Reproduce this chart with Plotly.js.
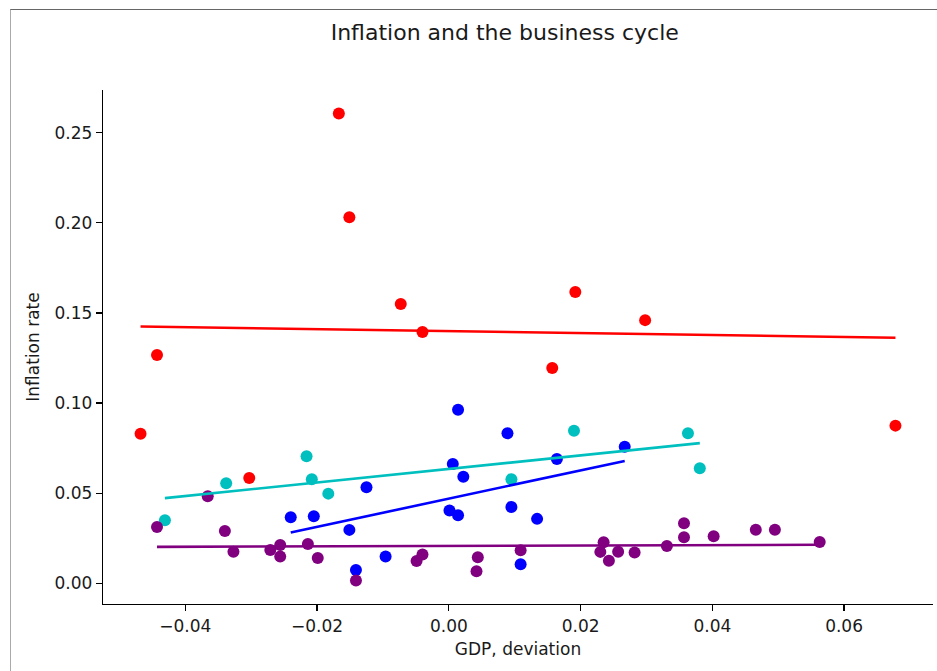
<!DOCTYPE html>
<html>
<head>
<meta charset="utf-8">
<script src="https://cdn.plot.ly/plotly-3.0.1.min.js"></script>
<style>
  html, body { margin: 0; padding: 0; background: #ffffff; }
  #wrap { position: relative; width: 937px; height: 671px; overflow: hidden; }
  #frame { position: absolute; left: 10px; top: 9px; right: -5px; bottom: -5px;
           border-top: 1.5px solid #666; border-left: 1px solid #aaa; pointer-events: none; }
  #chart { position: absolute; left: 0; top: 0; width: 937px; height: 671px; }
</style>
</head>
<body>
<div id="wrap">
  <div id="frame"></div>
  <div id="chart"></div>
</div>
<script>
// ---- data ----
const redX = [-0.0468, -0.0443, -0.0303, -0.0167, -0.0151, -0.0073, -0.0040, 0.0157, 0.0192, 0.0298, 0.0678];
const redY = [0.0830, 0.1267, 0.0585, 0.2606, 0.2030, 0.1550, 0.1394, 0.1195, 0.1616, 0.1460, 0.0875];

const blueX = [-0.0240, -0.0205, -0.0151, -0.0141, -0.0125, -0.0096, 0.0001, 0.0006, 0.0014, 0.0014, 0.0022, 0.0089, 0.0095, 0.0109, 0.0134, 0.0164, 0.0267];
const blueY = [0.0367, 0.0372, 0.0297, 0.0075, 0.0533, 0.0149, 0.0404, 0.0662, 0.0963, 0.0378, 0.0592, 0.0833, 0.0424, 0.0106, 0.0358, 0.0690, 0.0758];

const cyanX = [-0.0431, -0.0338, -0.0216, -0.0208, -0.0183, 0.0095, 0.0190, 0.0363, 0.0381];
const cyanY = [0.0350, 0.0555, 0.0705, 0.0578, 0.0498, 0.0578, 0.0847, 0.0833, 0.0639];

const purpleX = [-0.0443, -0.0366, -0.0340, -0.0327, -0.0271, -0.0256, -0.0256, -0.0214, -0.0199, -0.0141, -0.0049, -0.0040, 0.0042, 0.0044, 0.0109, 0.0230, 0.0235, 0.0243, 0.0257, 0.0282, 0.0331, 0.0357, 0.0357, 0.0402, 0.0466, 0.0495, 0.0563];
const purpleY = [0.0313, 0.0483, 0.0291, 0.0176, 0.0186, 0.0213, 0.0149, 0.0219, 0.0141, 0.0016, 0.0125, 0.0160, 0.0068, 0.0145, 0.0184, 0.0175, 0.0228, 0.0126, 0.0176, 0.0171, 0.0208, 0.0256, 0.0334, 0.0262, 0.0298, 0.0298, 0.0230];

const xTicks = [-0.04, -0.02, 0.00, 0.02, 0.04, 0.06];
const yTicks = [0.00, 0.05, 0.10, 0.15, 0.20, 0.25];

const chartTitle = 'Inflation and the business cycle';
const xTitle = 'GDP, deviation';
const yTitle = 'Inflation rate';

// ---- least-squares fit line for each group ----
function fitLine(xs, ys) {
  const n = xs.length;
  const mx = xs.reduce((a, b) => a + b, 0) / n;
  const my = ys.reduce((a, b) => a + b, 0) / n;
  let sxy = 0, sxx = 0;
  for (let i = 0; i < n; i++) { sxy += (xs[i] - mx) * (ys[i] - my); sxx += (xs[i] - mx) * (xs[i] - mx); }
  const b = sxy / sxx, a = my - b * mx;
  const lo = Math.min(...xs), hi = Math.max(...xs);
  return { x: [lo, hi], y: [a + b * lo, a + b * hi] };
}

const groups = [
  { x: redX, y: redY, color: '#ff0000' },
  { x: blueX, y: blueY, color: '#0000ff' },
  { x: cyanX, y: cyanY, color: '#00bfbf' },
  { x: purpleX, y: purpleY, color: '#800080' }
];

const traces = [];
groups.forEach(g => traces.push({
  type: 'scatter', mode: 'markers', x: g.x, y: g.y,
  marker: { color: g.color, size: 12, line: { width: 0 } },
  hoverinfo: 'x+y', showlegend: false
}));
groups.forEach(g => {
  const f = fitLine(g.x, g.y);
  traces.push({
    type: 'scatter', mode: 'lines', x: f.x, y: f.y,
    line: { color: g.color, width: 2.6 },
    hoverinfo: 'skip', showlegend: false
  });
});

const font = { family: 'DejaVu Sans, sans-serif', size: 17, color: '#1a1a1a' };

const layout = {
  width: 937, height: 671,
  margin: { l: 103, r: 4, t: 90, b: 67, pad: 0 },
  paper_bgcolor: 'rgba(0,0,0,0)',
  plot_bgcolor: 'rgba(0,0,0,0)',
  font: font,
  showlegend: false,
  title: {
    text: chartTitle,
    font: { family: 'DejaVu Sans, sans-serif', size: 22, color: '#1a1a1a' },
    xref: 'paper', x: 0.484, xanchor: 'center',
    yref: 'container', y: 1 - 32 / 671, yanchor: 'middle'
  },
  xaxis: {
    range: [-0.0525, 0.0735],
    tickvals: xTicks, tickformat: '.2f',
    showgrid: false, zeroline: false,
    showline: true, linecolor: '#000', linewidth: 1.3,
    ticks: 'outside', ticklen: 6, tickwidth: 1.3, tickcolor: '#000',
    tickfont: font,
    title: { text: xTitle, font: font, standoff: 8 }
  },
  yaxis: {
    range: [-0.0114, 0.2736],
    tickvals: yTicks, tickformat: '.2f',
    showgrid: false, zeroline: false,
    showline: true, linecolor: '#000', linewidth: 1.3,
    ticks: 'outside', ticklen: 6, tickwidth: 1.3, tickcolor: '#000',
    tickfont: font,
    title: { text: yTitle, font: font, standoff: 10 }
  }
};

Plotly.newPlot('chart', traces, layout, { displayModeBar: false, staticPlot: true });
</script>
</body>
</html>
